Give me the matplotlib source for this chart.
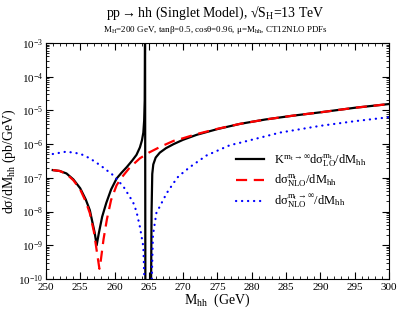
import numpy as np
import matplotlib
matplotlib.use('Agg')
import matplotlib.pyplot as plt
from matplotlib.ticker import LogLocator, MultipleLocator, NullFormatter

plt.rcParams.update({
    'font.family': 'Liberation Serif',
    'mathtext.fontset': 'stix',
    'mathtext.default': 'regular',
})

# K-factor * LO (mt finite)
m_lo = [251.0, 252.0, 253.0, 254.0, 255.0, 255.8, 256.4, 257.1, 257.4, 257.7, 258.2, 258.8,
        259.5, 260.3, 261.0, 261.8, 262.6, 263.2, 263.7, 264.0, 264.2, 264.32, 264.4,
        264.45, 264.5, 265.3, 265.4, 265.5, 265.65, 266.0, 266.6, 267.5, 268.6, 270.0,
        272.0, 275.0, 278.3, 282.0, 286.0, 290.0, 295.0, 300.0]
k_lo = [1.7e-7, 1.6e-7, 1.35e-7, 9e-8, 4.9e-8, 2.3e-8, 1.1e-8, 2.4e-9, 1.0e-9, 2.2e-9, 7e-9, 1.8e-8,
        4.5e-8, 9.5e-8, 1.4e-7, 2.1e-7, 3.3e-7, 4.8e-7, 8e-7, 1.3e-6, 2.2e-6, 5e-6, 2e-5,
        5e-3, 1e-11, 1e-11, 1e-8, 1.3e-7, 2.5e-7, 4.0e-7, 5.6e-7, 7.6e-7, 1.0e-6, 1.35e-6,
        1.9e-6, 2.8e-6, 4.0e-6, 5.4e-6, 7.0e-6, 8.8e-6, 1.2e-5, 1.55e-5]

# NLO (mt finite)
m_nlo = [251.0, 252.0, 253.0, 254.0, 255.0, 255.8, 256.4, 257.0, 257.4, 257.8, 258.0, 258.4,
         258.9, 259.5, 260.3, 261.0, 262.2, 263.7, 265.0, 266.6, 268.6, 270.0, 272.0,
         275.0, 278.3, 282.0, 286.0, 290.0, 295.0, 300.0]
nlo = [1.7e-7, 1.6e-7, 1.3e-7, 8.5e-8, 4.5e-8, 2e-8, 9e-9, 2.5e-9, 7e-10, 2e-10, 3.5e-10, 1.5e-9,
       6e-9, 2.2e-8, 6e-8, 1.0e-7, 2.0e-7, 3.8e-7, 5.6e-7, 8.2e-7, 1.25e-6, 1.5e-6, 2.0e-6,
       2.85e-6, 4.0e-6, 5.4e-6, 7.0e-6, 8.8e-6, 1.2e-5, 1.55e-5]

# NLO (mt -> infinity)
m_inf = [251.0, 253.0, 255.0, 256.4, 258.0, 259.8, 261.3, 262.7, 263.2, 263.7, 264.2,
         264.5, 265.3, 265.6, 266.1, 267.6, 268.6, 269.3, 271.0, 273.4, 276.8,
         278.3, 284.1, 290.0, 295.0, 300.0]
nlo_inf = [5.1e-7, 6.0e-7, 5.2e-7, 3.8e-7, 2.3e-7, 1.2e-7, 5.5e-8, 1.9e-8, 1.0e-8, 3.5e-9, 9e-10,
           1e-11, 1e-11, 2e-9, 9e-9, 3.5e-8, 7e-8, 1.1e-7, 2.1e-7, 4.6e-7, 9.3e-7,
           1.1e-6, 2.2e-6, 3.5e-6, 4.8e-6, 6.3e-6]

fig = plt.figure(figsize=(3.99, 3.12), dpi=100)
ax = fig.add_axes([0.115, 0.106, 0.86, 0.756])

ax.plot(m_lo, k_lo, color='black', lw=1.6,
        label=r'$K^{m_t\rightarrow\infty}d\sigma^{m_t}_{LO}/dM_{hh}$')
ax.plot(m_nlo, nlo, color='red', lw=1.6, ls=(0, (5, 3)),
        label=r'$d\sigma^{m_t}_{NLO}/dM_{hh}$')
ax.plot(m_inf, nlo_inf, color='blue', lw=1.6, ls=(0, (0.1, 2.6)), dash_capstyle='round',
        label=r'$d\sigma^{m_t\rightarrow\infty}_{NLO}/dM_{hh}$')

ax.set_yscale('log')
ax.set_xlim(250, 300)
ax.set_ylim(1e-10, 1e-3)
ax.xaxis.set_major_locator(MultipleLocator(5))
ax.xaxis.set_minor_locator(MultipleLocator(1))
ax.yaxis.set_major_locator(LogLocator(base=10, numticks=20))
ax.yaxis.set_minor_locator(LogLocator(base=10, subs=np.arange(2, 10), numticks=20))
ax.yaxis.set_minor_formatter(NullFormatter())
ax.tick_params(which='both', direction='in', top=True, right=True, labelsize=8)
ax.tick_params(which='major', length=5, pad=2)
ax.tick_params(axis='x', which='major', pad=3)
ax.tick_params(which='minor', length=2.5)

ax.set_xlabel(r'$M_{hh}$  (GeV)', fontsize=10, labelpad=0)
ax.set_ylabel(r'$d\sigma/dM_{hh}$ (pb/GeV)', fontsize=10, labelpad=0)

fig.text(0.54, 0.957, r'pp$\rightarrow$hh (Singlet Model), √S$_H$=13 TeV',
         ha='center', va='center', fontsize=10)
fig.text(0.54, 0.903, r'$M_H$=200 GeV, tan$\beta$=0.5, cos$\theta$=0.96, $\mu$=$M_{hh}$, CT12NLO PDFs',
         ha='center', va='center', fontsize=6.5)

ax.legend(loc='upper left', bbox_to_anchor=(0.53, 0.575), frameon=False, fontsize=9,
          handlelength=2.2, labelspacing=0.3, borderpad=0.2)

fig.savefig('out.png', dpi=100)
